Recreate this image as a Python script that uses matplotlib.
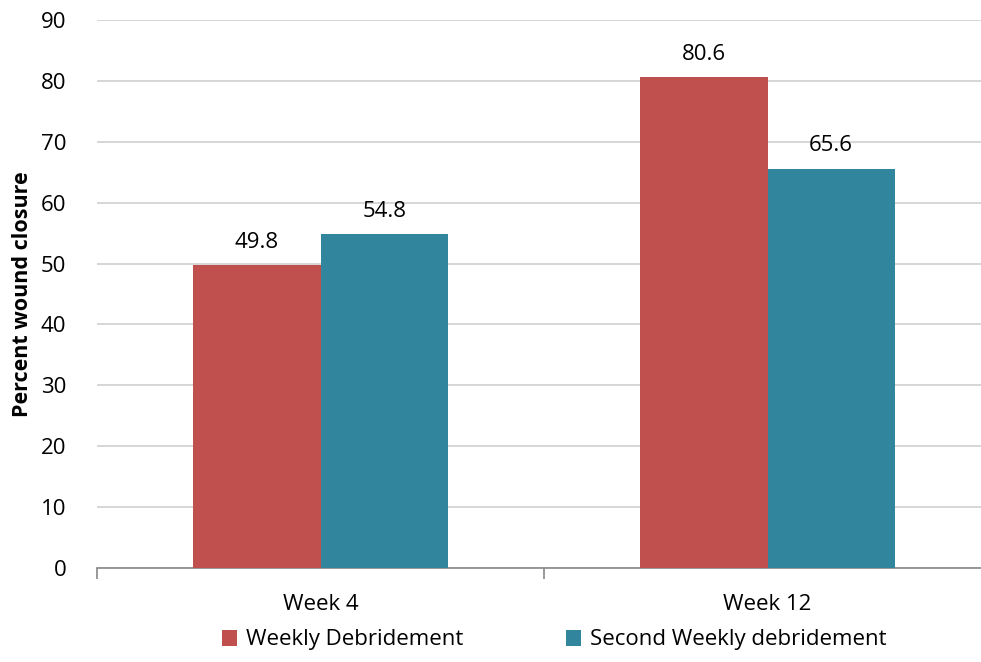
import numpy as np
import matplotlib.pyplot as plt

plt.rcParams['font.family'] = ['Open Sans', 'DejaVu Sans']

weeks = ["Week 4", "Week 12"]
weekly = [49.8, 80.6]
second_weekly = [54.8, 65.6]
series_names = ["Weekly Debridement", "Second Weekly debridement"]
colors = ["#C0504D", "#31859C"]

fs = 16

fig = plt.figure(figsize=(9.81, 6.62), dpi=100)
ax = fig.add_axes([97 / 981, 1 - 568 / 662, 894 / 981, 548 / 662])

x = np.arange(len(weeks))
w = 0.285
b1 = ax.bar(x - w / 2, weekly, w, color=colors[0], label=series_names[0], zorder=3)
b2 = ax.bar(x + w / 2, second_weekly, w, color=colors[1], label=series_names[1], zorder=3)

for bars, vals in ((b1, weekly), (b2, second_weekly)):
    for r, v in zip(bars, vals):
        ax.text(r.get_x() + r.get_width() / 2, v + 2.0, f"{v:.1f}",
                ha="center", va="bottom", fontsize=fs)

ax.set_ylim(0, 90)
ax.set_xlim(-0.5, 1.5)
ax.set_yticks(np.arange(0, 91, 10))
ax.yaxis.grid(True, color="#D0D0D0", linewidth=1.2, zorder=0)
ax.set_axisbelow(True)

ax.set_xticks(x)
ax.set_xticklabels(weeks, fontsize=fs)
ax.set_xticks([-0.5, 0.5, 1.5], minor=True)
ax.tick_params(axis="x", which="major", length=0, pad=19)
ax.tick_params(axis="x", which="minor", length=8, color="#888888", width=1.2)
ax.tick_params(axis="y", length=0, labelsize=fs, pad=22)

for s in ("top", "right", "left"):
    ax.spines[s].set_visible(False)
ax.spines["bottom"].set_color("#888888")
ax.spines["bottom"].set_linewidth(1.2)

ax.set_ylabel("Percent wound closure", fontsize=15.5, fontweight="bold", labelpad=6)

fig.legend(handles=[b1, b2], loc="center", bbox_to_anchor=(0.565, 1 - 640 / 662),
           ncol=2, frameon=False, fontsize=fs, handlelength=0.7, handleheight=0.7,
           columnspacing=4.6, handletextpad=0.4)

fig.savefig("out.png", dpi=100)
